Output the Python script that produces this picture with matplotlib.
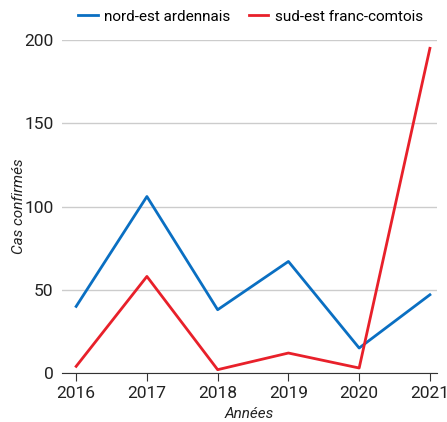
import matplotlib.pyplot as plt

years = [2016, 2017, 2018, 2019, 2020, 2021]
nord_est = [40, 106, 38, 67, 15, 47]
sud_est = [4, 58, 2, 12, 3, 195]

plt.rcParams['font.family'] = ['Roboto', 'DejaVu Sans']

fig = plt.figure(figsize=(4.47, 4.22), dpi=100)
ax = fig.add_axes([0.1387, 0.1161, 0.8389, 0.7891])

ax.plot(years, nord_est, color='#0a6fc2', linewidth=2, label='nord-est ardennais')
ax.plot(years, sud_est, color='#e8202a', linewidth=2, label='sud-est franc-comtois')

ax.set_xlim(2015.8, 2021.1)
ax.set_ylim(0, 200)
ax.set_yticks([0, 50, 100, 150, 200])
ax.set_xticks(years)
ax.grid(axis='y', color='#cccccc', linewidth=1)
ax.set_axisbelow(True)

for s in ['top', 'right', 'left']:
    ax.spines[s].set_visible(False)
ax.spines['bottom'].set_color('#333333')
ax.tick_params(axis='y', length=0, labelsize=12.5, colors='#222222', pad=6)
ax.tick_params(axis='x', length=6, color='#333333', labelsize=12.5, labelcolor='#222222')

ax.set_xlabel('Années', style='italic', fontsize=11, labelpad=4, color='#222222')
ax.set_ylabel('Cas confirmés', style='italic', fontsize=11, color='#222222')
ax.yaxis.set_label_coords(-0.096, 0.5)

fig.legend(loc='upper center', bbox_to_anchor=(0.56, 1.01), ncol=2, frameon=False,
           fontsize=11, handlelength=1.3, handletextpad=0.4, columnspacing=1.2)

fig.savefig('out.png', dpi=100)
